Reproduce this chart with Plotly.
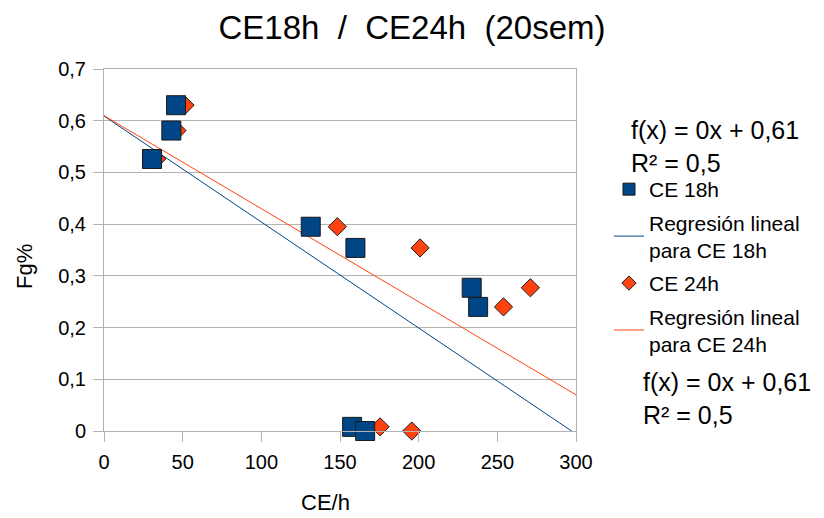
import numpy as np
import plotly.graph_objects as go

# CE per hour (x) and Fg% (y) for the two exposure groups
ce18_x = [45.8, 42.8, 30.5, 131.4, 159.8, 233.7, 237.8, 157.7, 166.0]
ce24_x = [51.5, 46.4, 33.5, 148.3, 200.9, 271.0, 253.9, 175.5, 195.6]
fg_y = [0.630, 0.581, 0.526, 0.395, 0.354, 0.277, 0.240, 0.008, 0.0]

x_ticks = [0, 50, 100, 150, 200, 250, 300]
y_ticks = [0, 0.1, 0.2, 0.3, 0.4, 0.5, 0.6, 0.7]

BLUE = "#004586"
ORANGE = "#ff420e"
GRID = "#b3b3b3"
EDGE = "#1a1a1a"
FONT = "Liberation Sans, Arial, sans-serif"

W, H = 824, 518
L, R, T, B = 104, 248, 69, 87
PW, PH = W - L - R, H - T - B


def px(x):
    return (x - L) / PW


def py(y):
    return (H - B - y) / PH


def fit(x, y):
    x = np.asarray(x)
    y = np.asarray(y)
    slope, icpt = np.polyfit(x, y, 1)
    pred = slope * x + icpt
    r2 = 1 - np.sum((y - pred) ** 2) / np.sum((y - y.mean()) ** 2)
    return slope, icpt, r2


def num(v):
    return f"{round(v, 2) + 0.0:g}".replace(".", ",")


def eq_text(slope, icpt, r2):
    return f"f(x) = {num(slope)}x + {num(icpt)}<br>R² = {num(r2)}"


s18, i18, r18 = fit(ce18_x, fg_y)
s24, i24, r24 = fit(ce24_x, fg_y)
line_x = np.array([0.0, 300.0])

fig = go.Figure()

# regression lines (drawn underneath the markers)
fig.add_trace(go.Scatter(
    x=line_x, y=s18 * line_x + i18, mode="lines",
    line=dict(color=BLUE, width=1),
    name="Regresión lineal<br>para CE 18h", legendrank=2, legendgroup="r18",
))
fig.add_trace(go.Scatter(
    x=line_x, y=s24 * line_x + i24, mode="lines",
    line=dict(color=ORANGE, width=1),
    name="Regresión lineal<br>para CE 24h", legendrank=4, legendgroup="r24",
))

# data markers; squares on top of diamonds
fig.add_trace(go.Scatter(
    x=ce24_x, y=fg_y, mode="markers", cliponaxis=False,
    marker=dict(symbol="diamond", size=14, color=ORANGE,
                line=dict(color=EDGE, width=1)),
    name="CE 24h", showlegend=False, legendgroup="p24",
))
fig.add_trace(go.Scatter(
    x=ce18_x, y=fg_y, mode="markers", cliponaxis=False,
    marker=dict(symbol="square", size=19, color=BLUE,
                line=dict(color=EDGE, width=1)),
    name="CE 18h", showlegend=False, legendgroup="p18",
))

# smaller legend symbols for the marker series
fig.add_trace(go.Scatter(
    x=[None], y=[None], mode="markers",
    marker=dict(symbol="square", size=12, color=BLUE,
                line=dict(color=EDGE, width=1)),
    name="CE 18h", legendrank=1, legendgroup="p18",
))
fig.add_trace(go.Scatter(
    x=[None], y=[None], mode="markers",
    marker=dict(symbol="diamond", size=11, color=ORANGE,
                line=dict(color=EDGE, width=1)),
    name="CE 24h", legendrank=3, legendgroup="p24",
))

axis_common = dict(
    showline=True, linecolor=GRID, linewidth=1, mirror=True,
    ticks="outside", ticklen=10, tickcolor=GRID, tickwidth=1,
    tickfont=dict(family=FONT, size=20, color="black"),
    ticklabelstandoff=3,
    zeroline=False,
)

fig.update_xaxes(
    range=[0, 300], tickvals=x_ticks, showgrid=False, **axis_common,
)
fig.update_yaxes(
    range=[0, 0.7], tickvals=y_ticks, showgrid=True, gridcolor=GRID,
    gridwidth=1, **axis_common,
)

fig.update_layout(
    width=W, height=H,
    margin=dict(l=L, r=R, t=T, b=B, pad=0),
    paper_bgcolor="white", plot_bgcolor="white",
    separators=", ",
    font=dict(family=FONT, size=20, color="black"),
    title=dict(
        text="CE18h\u00a0\u00a0/\u00a0\u00a0CE24h\u00a0\u00a0(20sem)",
        font=dict(family=FONT, size=33, color="black"),
        x=0.5, xref="container", xanchor="center",
        y=1 - 27 / H, yref="container", yanchor="middle",
    ),
    legend=dict(
        x=px(609), y=py(169), xanchor="left", yanchor="top",
        font=dict(family=FONT, size=21, color="black"),
        bgcolor="rgba(0,0,0,0)", borderwidth=0,
        traceorder="grouped", tracegroupgap=3, itemwidth=30,
        groupclick="toggleitem",
    ),
    showlegend=True,
)

fig.add_annotation(
    text=eq_text(s18, i18, r18), xref="paper", yref="paper",
    x=px(629), y=py(146), xanchor="left", yanchor="middle",
    align="left", showarrow=False,
    font=dict(family=FONT, size=25, color="black"),
)
fig.add_annotation(
    text=eq_text(s24, i24, r24), xref="paper", yref="paper",
    x=px(641), y=py(398), xanchor="left", yanchor="middle",
    align="left", showarrow=False,
    font=dict(family=FONT, size=25, color="black"),
)
fig.add_annotation(
    text="CE/h", xref="paper", yref="paper",
    x=px(325), y=py(502), xanchor="center", yanchor="middle",
    showarrow=False, font=dict(family=FONT, size=22, color="black"),
)
fig.add_annotation(
    text="Fg%", xref="paper", yref="paper",
    x=px(24), y=py(267), xanchor="center", yanchor="middle",
    textangle=-90, showarrow=False,
    font=dict(family=FONT, size=22, color="black"),
)

fig.write_html("out.html")
